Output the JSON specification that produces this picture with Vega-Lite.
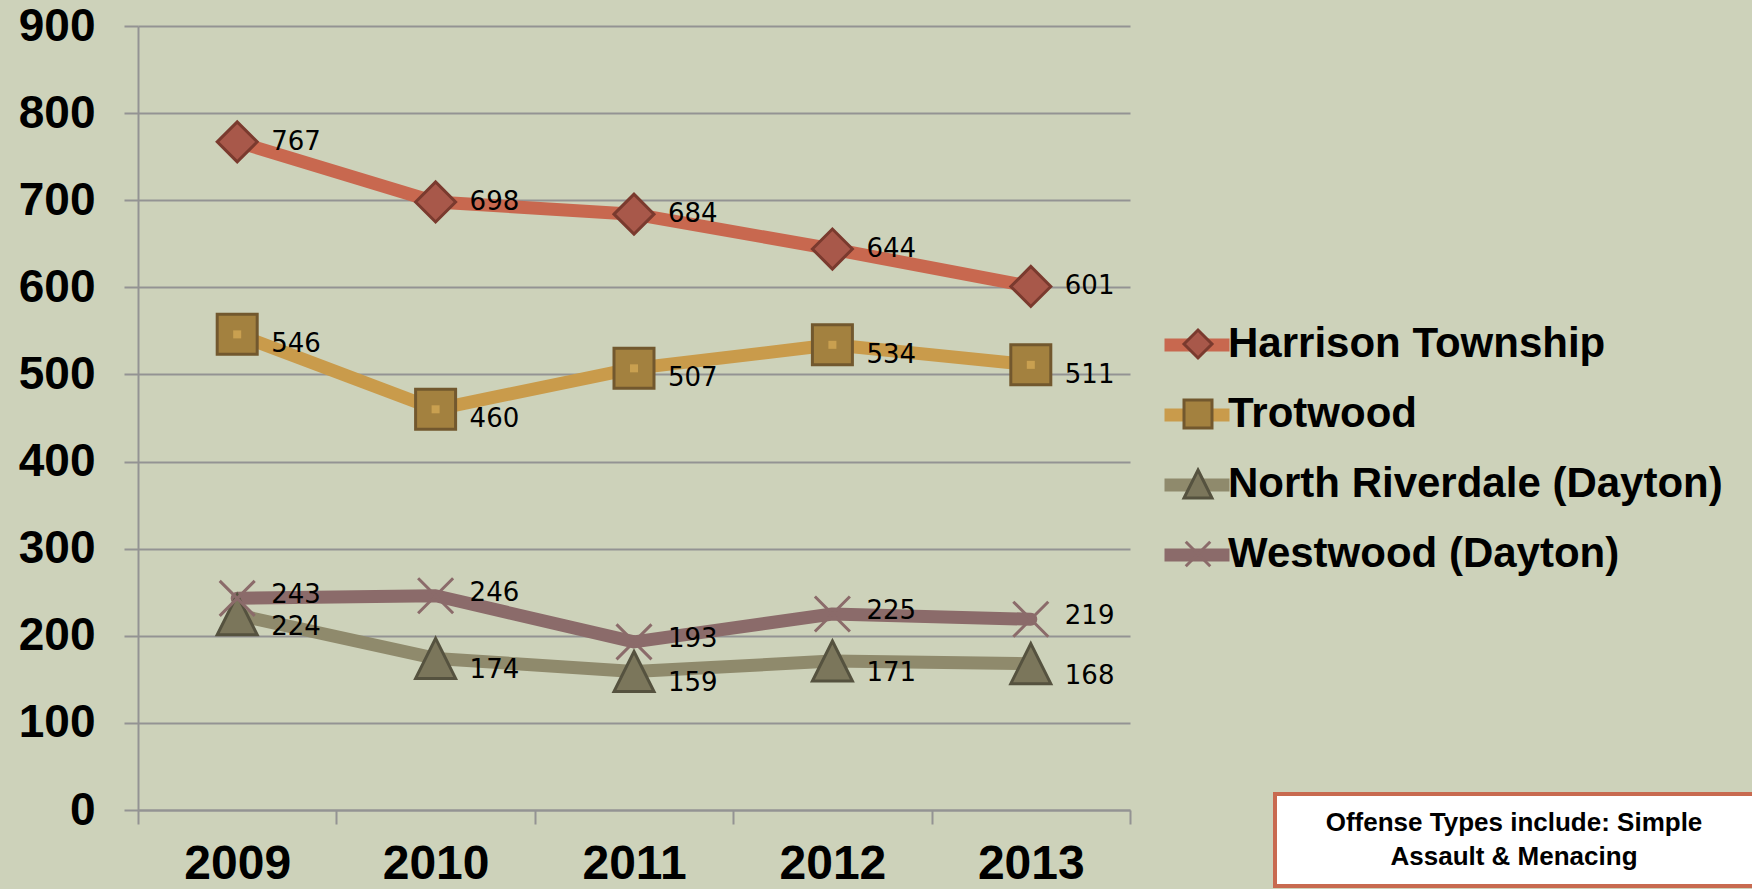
{
  "$schema": "https://vega.github.io/schema/vega-lite/v6.json",
  "autosize": "none",
  "width": 992,
  "height": 784,
  "padding": {"left": 138, "top": 26, "right": 622, "bottom": 79},
  "background": "#CDD2BA",
  "config": {"view": {"stroke": null}, "legend": {"strokeWidth": 4}},
  "datasets": {
    "crimes": [
      {"series": "Harrison Township", "year": 2009, "value": 767},
      {"series": "Harrison Township", "year": 2010, "value": 698},
      {"series": "Harrison Township", "year": 2011, "value": 684},
      {"series": "Harrison Township", "year": 2012, "value": 644},
      {"series": "Harrison Township", "year": 2013, "value": 601},
      {"series": "Trotwood", "year": 2009, "value": 546},
      {"series": "Trotwood", "year": 2010, "value": 460},
      {"series": "Trotwood", "year": 2011, "value": 507},
      {"series": "Trotwood", "year": 2012, "value": 534},
      {"series": "Trotwood", "year": 2013, "value": 511},
      {"series": "North Riverdale (Dayton)", "year": 2009, "value": 224},
      {"series": "North Riverdale (Dayton)", "year": 2010, "value": 174},
      {"series": "North Riverdale (Dayton)", "year": 2011, "value": 159},
      {"series": "North Riverdale (Dayton)", "year": 2012, "value": 171},
      {"series": "North Riverdale (Dayton)", "year": 2013, "value": 168},
      {"series": "Westwood (Dayton)", "year": 2009, "value": 243},
      {"series": "Westwood (Dayton)", "year": 2010, "value": 246},
      {"series": "Westwood (Dayton)", "year": 2011, "value": 193},
      {"series": "Westwood (Dayton)", "year": 2012, "value": 225},
      {"series": "Westwood (Dayton)", "year": 2013, "value": 219}
    ],
    "note": [
      {"line": "Offense Types include: Simple"},
      {"line": "Assault & Menacing"}
    ]
  },
  "layer": [
    {
      "data": {"name": "crimes"},
      "encoding": {
        "x": {
          "field": "year", "type": "ordinal",
          "scale": {"type": "band", "paddingInner": 0, "paddingOuter": 0},
          "axis": {
            "title": null, "labelAngle": 0, "tickBand": "extent",
            "domain": true, "domainColor": "#939393", "domainWidth": 2,
            "ticks": true, "tickColor": "#939393", "tickWidth": 2, "tickSize": 14,
            "grid": false,
            "labelFont": "Liberation Sans", "labelFontWeight": "bold", "labelFontSize": 48,
            "labelColor": "#000000", "labelPadding": 16
          }
        },
        "y": {
          "field": "value", "type": "quantitative",
          "scale": {"domain": [0, 900], "nice": false, "zero": true},
          "axis": {
            "title": null, "values": [0, 100, 200, 300, 400, 500, 600, 700, 800, 900],
            "domain": true, "domainColor": "#939393", "domainWidth": 2,
            "ticks": true, "tickColor": "#939393", "tickWidth": 2, "tickSize": 14,
            "grid": true, "gridColor": "#939393", "gridWidth": 2,
            "labelFont": "Liberation Sans", "labelFontWeight": "bold", "labelFontSize": 46,
            "labelColor": "#000000", "labelPadding": 29
          }
        }
      },
      "layer": [
        {
          "mark": {"type": "line", "strokeWidth": 13, "strokeCap": "round", "strokeJoin": "round"},
          "encoding": {
            "color": {
              "field": "series", "type": "nominal",
              "scale": {
                "domain": ["Harrison Township", "Trotwood", "North Riverdale (Dayton)", "Westwood (Dayton)"],
                "range": ["#C8684F", "#C99B4B", "#8F8A6C", "#8B6B6A"]
              },
              "legend": {
                "orient": "none", "legendX": 1020, "legendY": 280, "title": null, "padding": 0,
                "symbolType": "stroke", "symbolStrokeWidth": 13, "symbolSize": 4225,
                "labelFont": "Liberation Sans", "labelFontWeight": "bold", "labelFontSize": 42,
                "labelExpr": "''", "rowPadding": 5
              }
            }
          }
        },
        {
          "mark": {"type": "point", "filled": true, "size": 1600, "strokeWidth": 3, "opacity": 1},
          "encoding": {
            "fill": {
              "field": "series", "type": "nominal",
              "scale": {
                "domain": ["Harrison Township", "Trotwood", "North Riverdale (Dayton)", "Westwood (Dayton)"],
                "range": ["#A8584A", "#A3813F", "#7B765B", "transparent"]
              },
              "legend": {
                "orient": "none", "legendX": 1039, "legendY": 297, "title": null, "padding": 0,
                "symbolSize": 784, "symbolStrokeWidth": 3, "labelOffset": 9,
                "labelFont": "Liberation Sans", "labelFontWeight": "bold", "labelFontSize": 42,
                "labelColor": "#000000", "labelLimit": 0, "rowPadding": 28
              }
            },
            "stroke": {
              "field": "series", "type": "nominal",
              "scale": {
                "domain": ["Harrison Township", "Trotwood", "North Riverdale (Dayton)", "Westwood (Dayton)"],
                "range": ["#7A3A2E", "#72582E", "#55523F", "#8B6B6A"]
              },
              "legend": {
                "orient": "none", "legendX": 1039, "legendY": 297, "title": null, "padding": 0,
                "symbolSize": 784, "symbolStrokeWidth": 3, "labelOffset": 9,
                "labelFont": "Liberation Sans", "labelFontWeight": "bold", "labelFontSize": 42,
                "labelColor": "#000000", "labelLimit": 0, "rowPadding": 28
              }
            },
            "shape": {
              "field": "series", "type": "nominal",
              "scale": {
                "domain": ["Harrison Township", "Trotwood", "North Riverdale (Dayton)", "Westwood (Dayton)"],
                "range": ["diamond", "square", "M0,-1L1,1L-1,1Z", "M-0.875,-0.875L0.875,0.875M-0.875,0.875L0.875,-0.875"]
              },
              "legend": {
                "orient": "none", "legendX": 1039, "legendY": 297, "title": null, "padding": 0,
                "symbolSize": 784, "symbolStrokeWidth": 3, "labelOffset": 9,
                "labelFont": "Liberation Sans", "labelFontWeight": "bold", "labelFontSize": 42,
                "labelColor": "#000000", "labelLimit": 0, "rowPadding": 28
              }
            }
          }
        },
        {
          "transform": [{"filter": "datum.series == 'Trotwood'"}],
          "mark": {"type": "square", "size": 64, "color": "#C9A050", "opacity": 1}
        },
        {
          "transform": [{"filter": "datum.series == 'Harrison Township'"}],
          "mark": {"type": "text", "align": "left", "baseline": "middle", "dx": 34, "dy": 0, "font": "DejaVu Sans", "fontSize": 26, "color": "#000000"},
          "encoding": {"text": {"field": "value", "type": "quantitative"}}
        },
        {
          "transform": [{"filter": "datum.series == 'Trotwood'"}],
          "mark": {"type": "text", "align": "left", "baseline": "middle", "dx": 34, "dy": 10, "font": "DejaVu Sans", "fontSize": 26, "color": "#000000"},
          "encoding": {"text": {"field": "value", "type": "quantitative"}}
        },
        {
          "transform": [{"filter": "datum.series == 'North Riverdale (Dayton)'"}],
          "mark": {"type": "text", "align": "left", "baseline": "middle", "dx": 34, "dy": 12, "font": "DejaVu Sans", "fontSize": 26, "color": "#000000"},
          "encoding": {"text": {"field": "value", "type": "quantitative"}}
        },
        {
          "transform": [{"filter": "datum.series == 'Westwood (Dayton)'"}],
          "mark": {"type": "text", "align": "left", "baseline": "middle", "dx": 34, "dy": -3, "font": "DejaVu Sans", "fontSize": 26, "color": "#000000"},
          "encoding": {"text": {"field": "value", "type": "quantitative"}}
        }
      ],
      "resolve": {
        "legend": {"color": "independent", "fill": "independent", "stroke": "independent", "shape": "independent"}
      }
    },
    {
      "data": {"name": "note"},
      "mark": {"type": "point", "opacity": 0},
      "encoding": {
        "strokeDash": {
          "field": "line", "type": "nominal",
          "scale": {"domain": ["Offense Types include: Simple", "Assault & Menacing"], "range": [[1, 0], [1, 0]]},
          "legend": {
            "orient": "none", "legendX": 1137, "legendY": 768,
            "title": " ", "titleOrient": "right", "titlePadding": 40, "titleFontSize": 10,
            "direction": "vertical", "columns": 1,
            "fillColor": "#FFFFFF", "strokeColor": "#C86A50", "padding": 16,
            "symbolType": "circle", "symbolSize": 1, "symbolOpacity": 0, "symbolStrokeWidth": 0,
            "labelAlign": "center", "labelOffset": 197,
            "labelFont": "Liberation Sans", "labelFontWeight": "bold", "labelFontSize": 26,
            "labelColor": "#000000", "labelLimit": 0, "rowPadding": 8
          }
        }
      }
    }
  ],
  "resolve": {
    "legend": {"color": "independent", "fill": "independent", "stroke": "independent", "shape": "independent", "strokeDash": "independent"}
  }
}
